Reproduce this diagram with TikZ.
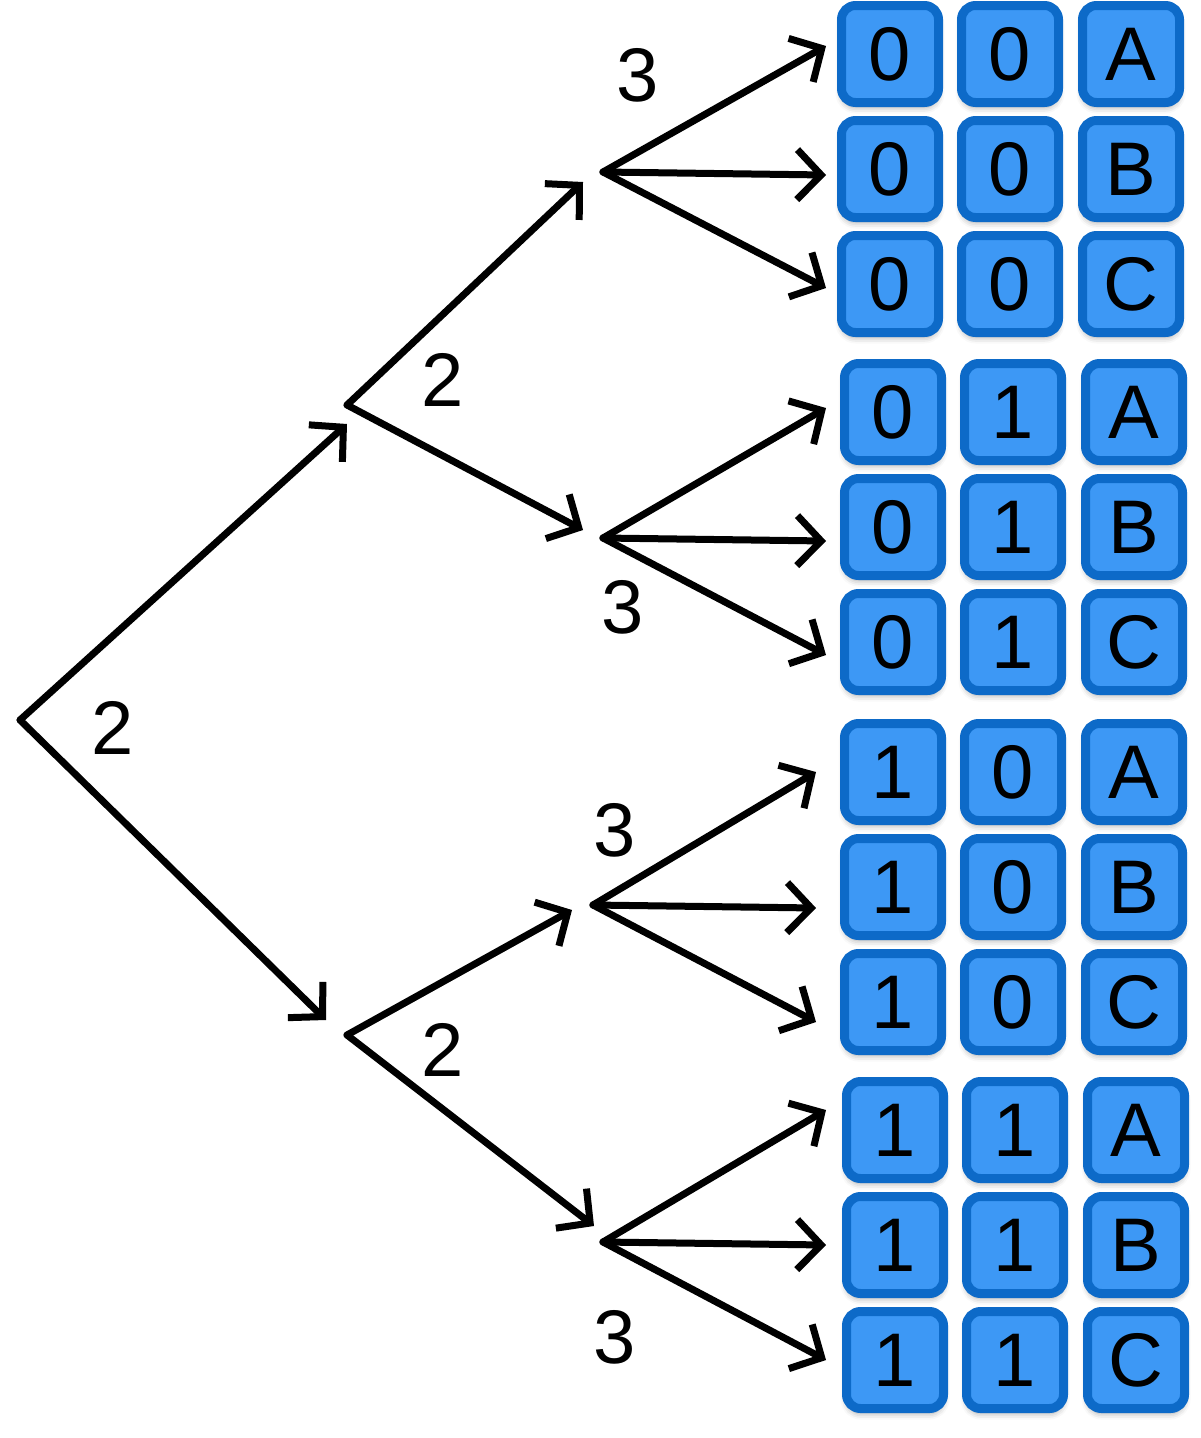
\documentclass[tikz,border=0pt]{standalone}
\usepackage{fontspec}
\setmainfont{Liberation Sans}
\usepackage{xcolor}
\usepackage{tikz}
\usetikzlibrary{arrows.meta,shadows.blur}

\definecolor{boxdark}{RGB}{13,106,200}
\definecolor{boxlight}{RGB}{61,152,245}

\begin{document}
\begin{tikzpicture}[x=1pt,y=-1pt,line width=7pt,line cap=round,line join=round,
	box/.style={draw=boxdark,fill=boxlight,line width=9pt,rounded corners=14pt,
		minimum size=97pt,inner sep=0pt,font=\fontsize{76}{80}\selectfont,
		blur shadow={shadow xshift=0pt,shadow yshift=-5pt,shadow blur radius=6pt,shadow opacity=35}},
	num/.style={font=\fontsize{76}{80}\selectfont,inner sep=0pt},
	arr/.style={-{Straight Barb[length=24pt,width=50pt]}}]

\useasboundingbox (0,0) rectangle (1200,1438);

% branch points
\coordinate (r) at (20,720);
\coordinate (a) at (347,405);
\coordinate (b) at (347,1035);
\coordinate (aa) at (603,172);
\coordinate (ab) at (603,538);
\coordinate (ba) at (593,905);
\coordinate (bb) at (603,1242);

% arrow tips
\coordinate (ta) at (347,424);
\coordinate (tb) at (326,1020);
\coordinate (taa) at (583,182);
\coordinate (tab) at (583,530);
\coordinate (tba) at (572,910);
\coordinate (tbb) at (594,1226);

\draw[arr] (r)--(ta);
\draw[arr] (r)--(tb);
\draw[arr] (a)--(taa);
\draw[arr] (a)--(tab);
\draw[arr] (b)--(tba);
\draw[arr] (b)--(tbb);

% boxes
\foreach \g/\top/\left/\br/\tipx/\fst/\snd/\ya/\yb/\yc in {
	1/54/890/aa/826/0/0/-8/121/234,
	2/412/893/ab/826/0/1/-4/129/243,
	3/772/893/ba/816/1/0/0/136/250,
	4/1130/895/bb/826/1/1/-20/115/230}{
	\foreach \r/\l/\dy in {0/A/\ya,1/B/\yb,2/C/\yc}{
		\node[box] (g\g\l1) at (\left,{\top+115*\r}) {\fst};
		\node[box] (g\g\l2) at ({\left+120},{\top+115*\r}) {\snd};
		\node[box] (g\g\l3) at ({\left+241},{\top+115*\r}) {\l};
		\coordinate (t\g\l) at (\tipx,{\top+\dy});
		\draw[arr] (\br)--(t\g\l);
	}
}

% labels
\node[num] (l1) at (113,728) {2};
\node[num] (l2) at (443,380) {2};
\node[num] (l3) at (443,1050) {2};
\node[num] (l4) at (638,75) {3};
\node[num] (l5) at (623,607) {3};
\node[num] (l6) at (615,830) {3};
\node[num] (l7) at (615,1337) {3};

\end{tikzpicture}
\end{document}
